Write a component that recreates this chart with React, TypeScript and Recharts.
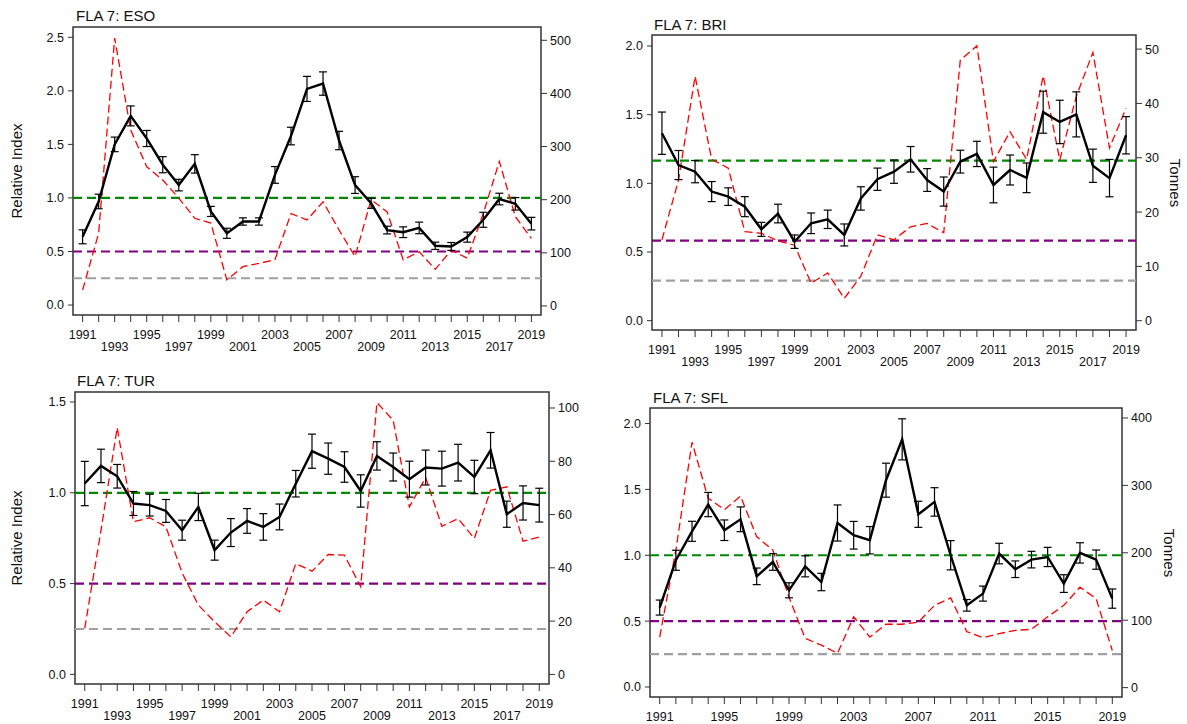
import React from "react";
import {
  ComposedChart,
  Line,
  XAxis,
  YAxis,
  ReferenceLine,
  ReferenceArea,
  ErrorBar,
} from "recharts";

// Survey years shared by all four stocks
const years = [
  1991, 1992, 1993, 1994, 1995, 1996, 1997, 1998, 1999, 2000, 2001, 2002, 2003, 2004, 2005,
  2006, 2007, 2008, 2009, 2010, 2011, 2012, 2013, 2014, 2015, 2016, 2017, 2018, 2019,
];

// ESO: relative index, its error half-width, and catch in tonnes
const esoIndex = [0.637, 0.967, 1.5, 1.766, 1.555, 1.31, 1.12, 1.318, 0.874, 0.67, 0.78, 0.78, 1.215, 1.578, 2.018, 2.068, 1.536, 1.12, 0.95, 0.7, 0.68, 0.72, 0.553, 0.547, 0.634, 0.796, 0.99, 0.945, 0.76];
const esoError = [0.065, 0.068, 0.068, 0.093, 0.075, 0.075, 0.054, 0.086, 0.047, 0.047, 0.034, 0.034, 0.078, 0.082, 0.117, 0.109, 0.086, 0.078, 0.047, 0.036, 0.05, 0.054, 0.034, 0.037, 0.047, 0.07, 0.054, 0.058, 0.059];
const esoCatch = [30, 137, 504, 331, 262, 237, 203, 165, 156, 49, 74, 80, 87, 174, 162, 196, 143, 93, 200, 177, 87, 102, 69, 105, 90, 174, 272, 168, 127];

// BRI
const briIndex = [1.365, 1.133, 1.085, 0.94, 0.903, 0.83, 0.665, 0.78, 0.575, 0.709, 0.738, 0.624, 0.89, 1.03, 1.085, 1.175, 1.024, 0.94, 1.158, 1.214, 0.988, 1.097, 1.04, 1.518, 1.447, 1.502, 1.128, 1.038, 1.35];
const briError = [0.154, 0.106, 0.081, 0.073, 0.064, 0.073, 0.051, 0.068, 0.049, 0.075, 0.067, 0.08, 0.085, 0.081, 0.085, 0.093, 0.083, 0.106, 0.083, 0.092, 0.13, 0.109, 0.108, 0.153, 0.158, 0.164, 0.121, 0.136, 0.136];
const briCatch = [14.9, 25.9, 45, 29.7, 28.1, 16.4, 16.1, 14.7, 13.9, 6.9, 8.8, 4.1, 8.2, 15.8, 14.9, 17.3, 17.9, 16.2, 48, 50.6, 29.3, 34.8, 29.7, 45.1, 29.6, 41.3, 49.4, 31.8, 39.1];

// TUR
const turIndex = [1.051, 1.148, 1.091, 0.941, 0.932, 0.9, 0.794, 0.922, 0.684, 0.781, 0.845, 0.812, 0.867, 1.05, 1.229, 1.188, 1.142, 1.01, 1.203, 1.142, 1.075, 1.139, 1.133, 1.166, 1.087, 1.234, 0.882, 0.944, 0.932];
const turError = [0.122, 0.092, 0.065, 0.066, 0.06, 0.063, 0.055, 0.075, 0.055, 0.077, 0.068, 0.073, 0.071, 0.073, 0.094, 0.086, 0.084, 0.089, 0.078, 0.077, 0.099, 0.096, 0.096, 0.101, 0.092, 0.098, 0.072, 0.094, 0.093];
const turCatch = [17.3, 54, 92.6, 57.3, 58.8, 55.4, 38.1, 26, 19.75, 14.1, 23.5, 27.9, 23.5, 41.6, 38.75, 45, 44.75, 32.9, 102, 95.4, 62.9, 73.9, 55.6, 58.5, 51, 69.1, 70.4, 50, 51.6];

// SFL
const sflIndex = [0.603, 0.962, 1.182, 1.385, 1.19, 1.273, 0.84, 0.949, 0.734, 0.916, 0.797, 1.245, 1.152, 1.114, 1.57, 1.88, 1.311, 1.405, 1.0, 0.62, 0.709, 1.013, 0.894, 0.967, 0.987, 0.785, 1.018, 0.967, 0.671];
const sflError = [0.057, 0.076, 0.076, 0.092, 0.078, 0.094, 0.063, 0.063, 0.057, 0.08, 0.066, 0.137, 0.105, 0.104, 0.129, 0.156, 0.099, 0.108, 0.111, 0.044, 0.057, 0.078, 0.063, 0.063, 0.073, 0.067, 0.077, 0.073, 0.073];
const sflCatch = [75, 204, 364, 281, 264, 284, 224, 204, 134, 73, 63, 51, 105, 75, 94, 94, 97, 122, 133, 83, 74, 80, 85, 86.5, 105, 122, 149, 132, 55];

// Reference levels (target, soft limit, hard limit) on the index axis
const esoRefs = [1, 0.5, 0.25];
const briRefs = [1.165, 0.5825, 0.29125];
const turRefs = [1, 0.5, 0.25];
const sflRefs = [1, 0.5, 0.25];

// Axis ticks
const indexTicks2 = [0, 0.5, 1, 1.5, 2];
const indexTicks25 = [0, 0.5, 1, 1.5, 2, 2.5];
const indexTicks15 = [0, 0.5, 1, 1.5];
const esoTonneTicks = [0, 100, 200, 300, 400, 500];
const briTonneTicks = [0, 10, 20, 30, 40, 50];
const turTonneTicks = [0, 20, 40, 60, 80, 100];
const sflTonneTicks = [0, 100, 200, 300, 400];

const refColors = ["#008800", "#800080", "#a0a0a0"];
const FONT = "'Liberation Sans', Arial, Helvetica, sans-serif";
const X_DOMAIN: [number, number] = [1990.4, 2019.6];

function buildRows(index: number[], err: number[], tonnes: number[]) {
  return years.map((year, i) => ({ year, idx: index[i], err: err[i], tonnes: tonnes[i] }));
}

const YearTick = (props: any) => {
  const { x, y, payload } = props;
  const yr = payload.value as number;
  if (yr % 2 === 0) return <g />;
  const lower = ((yr - 1991) / 2) % 2 === 1;
  return (
    <text x={x} y={y + (lower ? 27 : 15)} textAnchor="middle" fontSize={12.5} fill="#111" fontFamily={FONT}>
      {yr}
    </text>
  );
};

type PanelProps = {
  rows: any[];
  refs: number[];
  leftDomain: [number, number];
  rightDomain: [number, number];
  leftTicks: number[];
  rightTicks: number[];
  left: number;
  top: number;
  width: number;
  height: number;
  marginTop: number;
  leftW: number;
  rightW: number;
  xH: number;
};

function Panel(p: PanelProps) {
  return (
    <div style={{ position: "absolute", left: p.left, top: p.top }}>
      <ComposedChart
        width={p.width}
        height={p.height}
        data={p.rows}
        margin={{ top: p.marginTop, right: 0, bottom: 0, left: 0 }}
      >
        <XAxis
          dataKey="year"
          type="number"
          domain={X_DOMAIN}
          allowDataOverflow
          ticks={years}
          interval={0}
          height={p.xH}
          axisLine={false}
          tickLine={{ stroke: "#333", strokeWidth: 1 }}
          tickSize={7}
          tickMargin={2}
          tick={<YearTick />}
        />
        <YAxis
          yAxisId="L"
          orientation="left"
          type="number"
          domain={p.leftDomain}
          allowDataOverflow
          ticks={p.leftTicks}
          interval={0}
          width={p.leftW}
          axisLine={false}
          tickLine={{ stroke: "#333", strokeWidth: 1 }}
          tickSize={5}
          tickMargin={4}
          tickFormatter={(v: number) => v.toFixed(1)}
          tick={{ fontSize: 12.5, fill: "#111", fontFamily: FONT }}
        />
        <YAxis
          yAxisId="R"
          orientation="right"
          type="number"
          domain={p.rightDomain}
          allowDataOverflow
          ticks={p.rightTicks}
          interval={0}
          width={p.rightW}
          axisLine={false}
          tickLine={{ stroke: "#333", strokeWidth: 1 }}
          tickSize={6}
          tickMargin={3}
          tick={{ fontSize: 12.5, fill: "#111", fontFamily: FONT, textAnchor: "start" }}
        />
        {p.refs.map((r, i) => (
          <ReferenceLine
            key={i}
            yAxisId="L"
            y={r}
            stroke={refColors[i]}
            strokeWidth={2.2}
            strokeDasharray="9 5"
          />
        ))}
        <Line
          yAxisId="R"
          dataKey="tonnes"
          type="linear"
          stroke="#ff0000"
          strokeWidth={1.3}
          strokeDasharray="8 4"
          dot={false}
          activeDot={false}
          isAnimationActive={false}
        />
        <Line
          yAxisId="L"
          dataKey="idx"
          type="linear"
          stroke="#000"
          strokeWidth={2.4}
          dot={false}
          activeDot={false}
          isAnimationActive={false}
        >
          <ErrorBar dataKey="err" width={4} stroke="#000" strokeWidth={1.2} direction="y" isAnimationActive={false} />
        </Line>
        <ReferenceArea
          yAxisId="L"
          x1={X_DOMAIN[0]}
          x2={X_DOMAIN[1]}
          y1={p.leftDomain[0]}
          y2={p.leftDomain[1]}
          fill="none"
          stroke="#333"
          strokeWidth={1.5}
          ifOverflow="visible"
        />
      </ComposedChart>
    </div>
  );
}

const Label = ({ text, x, y, rotate }: { text: string; x: number; y: number; rotate?: number }) => (
  <div
    style={{
      position: "absolute",
      left: x,
      top: y,
      fontSize: 15,
      lineHeight: "15px",
      whiteSpace: "nowrap",
      color: "#111",
      transform: rotate ? `translate(-50%, -50%) rotate(${rotate}deg)` : undefined,
    }}
  >
    {text}
  </div>
);

export default function App() {
  return (
    <div
      style={{
        position: "absolute",
        left: 0,
        top: 0,
        width: 1187,
        height: 724,
        overflow: "hidden",
        background: "#fff",
        fontFamily: FONT,
      }}
    >
      <Panel
        rows={buildRows(esoIndex, esoError, esoCatch)}
        refs={esoRefs}
        leftDomain={[-0.093, 2.596]}
        rightDomain={[-17, 525]}
        leftTicks={indexTicks25}
        rightTicks={esoTonneTicks}
        left={0}
        top={0}
        width={600}
        height={360}
        marginTop={27}
        leftW={73}
        rightW={59}
        xH={45}
      />
      <Panel
        rows={buildRows(briIndex, briError, briCatch)}
        refs={briRefs}
        leftDomain={[-0.068, 2.08]}
        rightDomain={[-1.71, 52.6]}
        leftTicks={indexTicks2}
        rightTicks={briTonneTicks}
        left={590}
        top={0}
        width={597}
        height={372}
        marginTop={35}
        leftW={62}
        rightW={51}
        xH={42}
      />
      <Panel
        rows={buildRows(turIndex, turError, turCatch)}
        refs={turRefs}
        leftDomain={[-0.053, 1.555]}
        rightDomain={[-3.6, 106]}
        leftTicks={indexTicks15}
        rightTicks={turTonneTicks}
        left={0}
        top={365}
        width={590}
        height={359}
        marginTop={27}
        leftW={75}
        rightW={41}
        xH={40}
      />
      <Panel
        rows={buildRows(sflIndex, sflError, sflCatch)}
        refs={sflRefs}
        leftDomain={[-0.076, 2.118]}
        rightDomain={[-13.9, 414.8]}
        leftTicks={indexTicks2}
        rightTicks={sflTonneTicks}
        left={590}
        top={365}
        width={597}
        height={380}
        marginTop={43}
        leftW={60}
        rightW={65}
        xH={48}
      />

      <Label text="FLA 7: ESO" x={76} y={8} />
      <Label text="FLA 7: BRI" x={654} y={16.5} />
      <Label text="FLA 7: TUR" x={77} y={373} />
      <Label text="FLA 7: SFL" x={653} y={390} />

      <Label text="Relative Index" x={16} y={171} rotate={-90} />
      <Label text="Relative Index" x={16} y={538} rotate={-90} />
      <Label text="Tonnes" x={1175} y={183} rotate={90} />
      <Label text="Tonnes" x={1169} y={553} rotate={90} />
    </div>
  );
}
